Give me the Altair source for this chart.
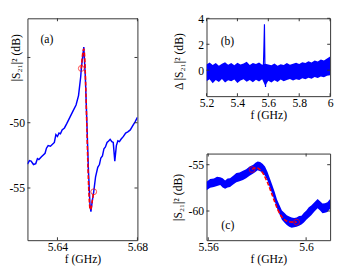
import altair as alt
import pandas as pd

BLUE = '#0000ff'
RED = '#ff0000'
FRAME = '#333333'
FONT = 'Liberation Serif'

# ---------------- Panel (a) ----------------
a_f = [5.62496, 5.62600, 5.62682, 5.62800, 5.62915, 5.63000, 5.6307, 5.6320, 5.6338, 5.6345,
       5.63535, 5.6365, 5.63845, 5.63922, 5.6400, 5.64078, 5.6415, 5.64233, 5.6435, 5.64465,
       5.6462, 5.64775, 5.6493, 5.65054, 5.65163, 5.65194, 5.65271, 5.65318, 5.65395,
       5.65473, 5.6555, 5.65628, 5.65674, 5.65736, 5.65814, 5.65907, 5.66016, 5.6610, 5.6617,
       5.6625, 5.66326, 5.6640, 5.6648, 5.6656, 5.66636, 5.6672, 5.6679, 5.66868, 5.66946,
       5.67023, 5.6710, 5.67178, 5.6730, 5.6741, 5.6752, 5.67643, 5.6776, 5.67876, 5.68]
a_db = [-53.18, -52.90, -52.94, -53.20, -53.13, -52.75, -52.82, -52.60, -52.34, -51.95,
        -51.75, -51.80, -51.51, -50.91, -51.05, -50.79, -50.85, -50.55, -50.40, -50.07,
        -49.59, -49.11, -48.64, -47.92, -46.48, -45.84, -44.81, -44.21, -46.48,
        -50.07, -53.66, -56.29, -56.82, -56.05, -55.29, -54.14, -53.42, -53.20, -52.70,
        -52.55, -51.99, -51.85, -51.51, -51.40, -51.27, -51.45, -51.51, -52.94, -51.75,
        -51.39, -51.45, -51.27, -51.05, -50.79, -50.70, -50.55, -50.25, -49.95, -49.59]
a_fit_f = [5.65194, 5.6524, 5.6529, 5.6532, 5.6536, 5.6541, 5.6547, 5.6553, 5.6559, 5.6564,
           5.6568, 5.6573, 5.65814]
a_fit_db = [-45.84, -45.0, -44.45, -44.35, -44.9, -47.0, -50.3, -53.6, -55.9, -56.65,
            -56.6, -56.1, -55.29]
a_mark_f = [5.65194, 5.65814]
a_mark_db = [-45.84, -55.29]
a_xticks = [5.64, 5.68]
a_yticks = [-45, -50, -55]
a_ylabels = [-50, -55]

# ---------------- Panel (b) ----------------
b_f = [5.20, 5.22, 5.24, 5.26, 5.28, 5.30, 5.32, 5.34, 5.36, 5.38,
       5.40, 5.42, 5.44, 5.46, 5.48, 5.50, 5.52, 5.54, 5.56, 5.58,
       5.60, 5.62, 5.64, 5.66, 5.68, 5.70, 5.72, 5.74, 5.76, 5.78,
       5.80, 5.82, 5.84, 5.86, 5.88, 5.90, 5.92, 5.94, 5.96, 5.98, 6.00]
b_hi = [0.45, 0.60, 0.40, 0.55, 0.35, 0.50, 0.62, 0.42, 0.55, 0.38,
        0.58, 0.45, 0.52, 0.66, 0.40, 0.55, 0.48, 0.60, 0.42, 0.50,
        0.45, 0.38, 0.52, 0.35, 0.46, 0.40, 0.55, 0.42, 0.50, 0.58,
        0.48, 0.62, 0.55, 0.70, 0.60, 0.75, 0.68, 0.82, 0.74, 0.90, 1.05]
b_lo = [-0.85, -0.70, -1.00, -0.75, -0.90, -0.68, -0.95, -0.78, -0.85, -0.72,
        -0.98, -0.80, -0.70, -0.88, -0.76, -0.92, -0.74, -0.86, -0.70, -1.20,
        -0.82, -0.95, -0.78, -0.90, -0.72, -0.85, -0.76, -0.68, -0.80, -0.70,
        -0.75, -0.62, -0.70, -0.58, -0.65, -0.52, -0.60, -0.48, -0.55, -0.42, -0.38]
b_spike_f = [5.568, 5.572, 5.575, 5.578, 5.582, 5.586]
b_spike_db = [0.2, 2.0, 3.55, 0.5, -1.3, -0.3]
b_xticks = [5.2, 5.4, 5.6, 5.8, 6.0]
b_yticks = [0, 2, 4]

# ---------------- Panel (c) ----------------
c_f = [5.5593, 5.5608, 5.5623, 5.5636, 5.5649, 5.5659, 5.5669, 5.5679, 5.5689, 5.5702,
       5.5715, 5.5728, 5.5742, 5.5755, 5.5769, 5.5784, 5.5793, 5.5802, 5.5812, 5.5822,
       5.5832, 5.5842, 5.5851, 5.5861, 5.5871, 5.5881, 5.5891, 5.5901, 5.5911, 5.5921,
       5.5931, 5.5941, 5.5951, 5.5961, 5.5971, 5.5981, 5.5991, 5.6001, 5.6011, 5.6021,
       5.6034, 5.6047, 5.6057, 5.6067, 5.6077, 5.6087, 5.6098]
c_hi = [-56.85, -56.55, -56.5, -56.3, -56.35, -56.45, -56.7, -56.5, -56.45, -56.2,
        -55.9, -55.85, -55.65, -55.5, -55.2, -55.0, -54.8, -54.65, -54.7, -54.9,
        -55.2, -55.75, -56.4, -57.15, -57.9, -58.75, -59.35, -59.95, -60.2, -60.45,
        -60.6, -60.7, -60.75, -60.7, -60.55, -60.5, -60.2, -59.95, -59.6, -59.4,
        -59.05, -58.7, -58.95, -59.2, -59.15, -59.05, -58.7]
c_lo = [-57.75, -57.5, -57.4, -57.3, -57.2, -57.45, -57.6, -57.45, -57.4, -57.15,
        -56.9, -56.8, -56.65, -56.45, -56.2, -55.95, -55.8, -55.6, -55.7, -55.85,
        -56.2, -56.7, -57.4, -58.1, -58.9, -59.7, -60.35, -60.95, -61.25, -61.5,
        -61.7, -61.8, -61.75, -61.7, -61.6, -61.45, -61.25, -60.95, -60.7, -60.45,
        -60.05, -59.7, -59.95, -60.25, -60.2, -60.1, -59.75]
c_fit_f = [5.5779, 5.5790, 5.5800, 5.5812, 5.5825, 5.5840, 5.5855, 5.5870, 5.5885, 5.5900,
           5.5915, 5.5930, 5.5945, 5.5961]
c_fit_db = [-55.52, -55.35, -55.35, -55.55, -56.0, -56.8, -57.8, -58.9, -59.9, -60.6,
            -61.0, -61.15, -61.2, -61.2]
c_mark_f = [5.5779, 5.5961]
c_mark_db = [-55.52, -61.2]
c_xticks = [5.56, 5.6]
c_yticks = [-55, -60]

panel_tags = ["(a)", "(b)", "(c)"]
tag_f = [5.6347, 5.3354, 5.5680]
tag_db = [-43.57, 2.21, -61.47]

LBL = 'toString(datum.value)'
TL = 3


def xaxis(vals):
    return alt.Axis(values=vals, labelExpr=LBL, ticks=False, domain=False, grid=False,
                    title='f (GHz)', labelFlush=False, labelPadding=2, titlePadding=1)


def yaxis(vals, title, tx, ty):
    return alt.Axis(values=vals, labelExpr=LBL, ticks=False, domain=False, grid=False,
                    title=title, titleX=tx, titleY=ty, titleBaseline='middle',
                    titleAngle=270, labelPadding=3)


def panel(layers, xt, yt, W, H, xs, ys, xv, yv, ytitle, tx, ty, i):
    xdf = pd.DataFrame({'f': xt})
    ydf = pd.DataFrame({'v': yt})
    tdf = pd.DataFrame({'f': [tag_f[i]], 'v': [tag_db[i]], 't': [panel_tags[i]]})
    extra = [
        alt.Chart(tdf).mark_text(font=FONT, fontSize=12, color='black').encode(text='t:N'),
        alt.Chart(xdf).mark_rule(color=FRAME, strokeWidth=1).encode(y=alt.value(H), y2=alt.value(H - TL)),
        alt.Chart(xdf).mark_rule(color=FRAME, strokeWidth=1).encode(y=alt.value(0), y2=alt.value(TL)),
        alt.Chart(ydf).mark_rule(color=FRAME, strokeWidth=1).encode(x=alt.value(0), x2=alt.value(TL)),
        alt.Chart(ydf).mark_rule(color=FRAME, strokeWidth=1).encode(x=alt.value(W), x2=alt.value(W - TL)),
    ]
    return alt.layer(*layers, *extra).encode(
        x=alt.X('f:Q', scale=xs, axis=xaxis(xv)),
        y=alt.Y('v:Q', scale=ys, axis=yaxis(yv, ytitle, tx, ty)),
    ).properties(width=W, height=H)


YT = '|S\u2082\u2081|\u00b2 (dB)'
YTB = '\u0394 |S\u2082\u2081|\u00b2 (dB)'

# ----- (a) -----
WA, HA = 113, 228
xs_a = alt.Scale(domain=[5.625, 5.68], nice=False, zero=False)
ys_a = alt.Scale(domain=[-59, -42], nice=False, zero=False)
line_a = alt.Chart(pd.DataFrame({'f': a_f, 'v': a_db})).mark_line(
    color=BLUE, strokeWidth=1.5, clip=True)
fit_a = alt.Chart(pd.DataFrame({'f': a_fit_f, 'v': a_fit_db})).mark_line(
    color=RED, strokeWidth=1.6, strokeDash=[4, 2], interpolate='monotone', clip=True)
pts_a = alt.Chart(pd.DataFrame({'f': a_mark_f, 'v': a_mark_db})).mark_point(
    shape='circle', filled=False, color=RED, size=36, strokeWidth=1)
pa = panel([line_a, fit_a, pts_a], a_xticks, a_yticks, WA, HA, xs_a, ys_a,
           a_xticks, a_ylabels, YT, -12, 40, 0)

# ----- (b) -----
WB, HB = 127, 80
xs_b = alt.Scale(domain=[5.2, 6.0], nice=False, zero=False)
ys_b = alt.Scale(domain=[-2, 4], nice=False, zero=False)
band_b = alt.Chart(pd.DataFrame({'f': b_f, 'v': b_lo, 'v2': b_hi})).mark_area(
    color=BLUE, opacity=1, clip=True).encode(y2='v2:Q')
spike_b = alt.Chart(pd.DataFrame({'f': b_spike_f, 'v': b_spike_db})).mark_line(
    color=BLUE, strokeWidth=1.2, clip=True)
pb = panel([band_b, spike_b], b_xticks, b_yticks, WB, HB, xs_b, ys_b,
           b_xticks, b_yticks, YTB, -29, 44, 1)

# ----- (c) -----
WC, HC = 127, 89
xs_c = alt.Scale(domain=[5.5593, 5.6098], nice=False, zero=False)
ys_c = alt.Scale(domain=[-63.15, -53.8], nice=False, zero=False)
band_c = alt.Chart(pd.DataFrame({'f': c_f, 'v': c_lo, 'v2': c_hi})).mark_area(
    color=BLUE, opacity=1, clip=True).encode(y2='v2:Q')
fit_c = alt.Chart(pd.DataFrame({'f': c_fit_f, 'v': c_fit_db})).mark_line(
    color=RED, strokeWidth=1.6, strokeDash=[4, 2], interpolate='monotone', clip=True)
pts_c = alt.Chart(pd.DataFrame({'f': c_mark_f, 'v': c_mark_db})).mark_point(
    shape='circle', filled=False, color=RED, size=36, strokeWidth=1)
pc = panel([band_c, fit_c, pts_c], c_xticks, c_yticks, WC, HC, xs_c, ys_c,
           c_xticks, c_yticks, YT, -30, 44.5, 2)

right = alt.vconcat(pb, pc, spacing=59, bounds='flush')
chart = alt.hconcat(pa, right, spacing=71, bounds='flush').properties(
    padding=0, background='white'
).configure_view(stroke=FRAME, strokeWidth=1).configure_axis(
    labelFont=FONT, titleFont=FONT, labelFontSize=12, titleFontSize=12,
    labelColor='black', titleColor='black', titleFontWeight='normal')

chart.save("out.html", embed_options={"renderer": "svg", "actions": False})
